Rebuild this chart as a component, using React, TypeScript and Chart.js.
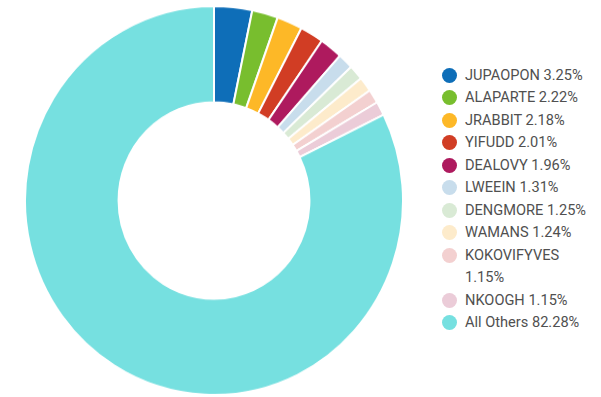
import React, { useEffect, useRef } from "react";
import { Chart, registerables } from "chart.js";

Chart.register(...registerables);

const labels = ["JUPAOPON", "ALAPARTE", "JRABBIT", "YIFUDD", "DEALOVY", "LWEEIN", "DENGMORE", "WAMANS", "KOKOVIFYVES", "NKOOGH", "All Others"];
const values = [3.25, 2.22, 2.18, 2.01, 1.96, 1.31, 1.25, 1.24, 1.15, 1.15, 82.28];
const colors = ["#0E6EB8", "#78BE2E", "#FDB827", "#D13D24", "#AE1A5E", "#C8DDEC", "#D9EAD5", "#FDEBCB", "#F3D0D0", "#EBCCD8", "#76E0E0"];

export default function App() {
  const ref = useRef<HTMLCanvasElement>(null);
  useEffect(() => {
    const chart = new Chart(ref.current!, {
      type: "doughnut",
      data: {
        labels,
        datasets: [{ data: values, backgroundColor: colors, borderColor: "#ffffff", borderWidth: 2 }],
      },
      options: {
        responsive: false,
        animation: false,
        cutout: "50.5%",
        layout: { padding: 2 },
        plugins: { legend: { display: false }, tooltip: { enabled: false } },
      },
    });
    return () => chart.destroy();
  }, []);

  const rows: { color: string; lines: string[] }[] = labels.map((l, i) => {
    const txt = `${l} ${values[i].toFixed(2)}%`;
    return { color: colors[i], lines: l === "KOKOVIFYVES" ? [l, `${values[i].toFixed(2)}%`] : [txt] };
  });

  return (
    <div style={{ position: "fixed", left: 0, top: 0, width: 601, height: 397, background: "#fff", fontFamily: "Roboto, sans-serif" }}>
      <canvas ref={ref} width={384} height={384} style={{ position: "absolute", left: 22, top: 2.5, width: 384, height: 395 }} />
      <div style={{ position: "absolute", left: 441.5, top: 63.75 }}>
        {rows.map((r, i) => (
          <div key={i} style={{ display: "flex", alignItems: "flex-start" }}>
            <div style={{ width: 15, height: 15, borderRadius: 7.5, background: r.color, marginTop: 3.75, marginRight: 8.5, flexShrink: 0 }} />
            <div style={{ fontSize: 14.6, lineHeight: "22.5px", color: "#505050", whiteSpace: "nowrap" }}>
              {r.lines.map((t, j) => (
                <div key={j}>{t}</div>
              ))}
            </div>
          </div>
        ))}
      </div>
    </div>
  );
}
